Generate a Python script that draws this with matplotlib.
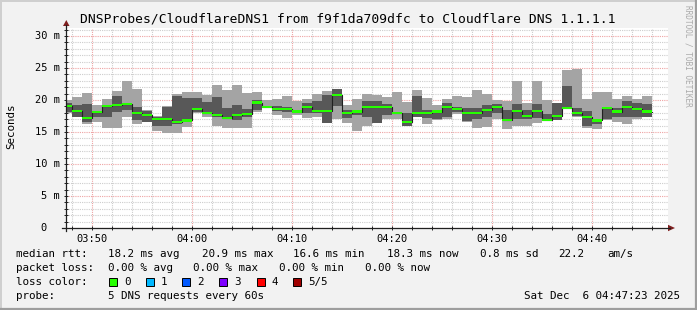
import matplotlib
matplotlib.use("Agg")
import matplotlib.pyplot as plt
from matplotlib.lines import Line2D
from matplotlib.patches import Rectangle, Polygon
import numpy as np

# time axis in minutes after 03:00; one bin per minute, the first one cut by the window start
win_start, win_end = 47.37, 107.57
bin_ends = list(range(48, 107))

# 5 pings per minute, sorted (ms)
ping_min = [18.0, 17.3, 16.3, 16.6, 15.7, 15.7, 17.4, 16.2, 16.5, 15.2,
            14.9, 14.9, 15.8, 18.0, 17.4, 15.9, 15.7, 15.7, 15.7, 18.2,
            18.7, 17.7, 17.2, 17.7, 17.2, 17.4, 16.4, 17.0, 16.4, 15.2,
            15.9, 16.4, 17.1, 17.0, 15.9, 17.4, 16.2, 16.9, 17.0, 17.8,
            16.6, 15.7, 15.8, 17.1, 15.5, 15.9, 15.9, 16.4, 16.8, 16.8,
            18.7, 17.4, 15.7, 15.5, 16.9, 16.6, 16.2, 17.1, 17.4]
ping_lo = [18.2, 17.4, 16.6, 17.3, 17.3, 18.2, 18.4, 16.9, 16.6, 16.0,
           15.9, 16.2, 16.5, 18.1, 17.9, 17.4, 17.0, 16.9, 17.3, 18.4,
           18.8, 18.3, 18.2, 17.9, 17.9, 17.9, 16.4, 19.1, 17.2, 17.6,
           17.3, 16.4, 17.7, 17.9, 15.9, 17.4, 17.2, 17.0, 17.4, 18.2,
           16.7, 17.0, 17.4, 18.0, 16.9, 17.0, 17.0, 17.2, 16.8, 16.8,
           18.7, 17.5, 15.9, 16.2, 17.0, 17.4, 17.3, 17.3, 17.4]
ping_med = [19.0, 18.3, 17.2, 18.1, 19.0, 19.2, 19.4, 18.0, 17.7, 17.0,
            17.0, 16.6, 16.8, 18.6, 18.0, 17.7, 17.2, 17.7, 17.8, 19.6,
            18.95, 18.6, 18.6, 18.2, 18.95, 18.3, 18.3, 20.8, 18.0, 18.2,
            18.95, 18.95, 18.95, 18.0, 16.5, 18.0, 18.0, 18.2, 18.95, 18.65,
            18.0, 18.0, 18.5, 18.85, 16.9, 18.3, 17.5, 18.3, 16.9, 17.5,
            18.7, 18.0, 17.4, 16.8, 18.7, 18.2, 18.95, 18.65, 18.2]
ping_hi = [19.6, 19.2, 19.3, 18.3, 19.0, 20.6, 19.5, 18.9, 18.3, 17.4,
           18.9, 20.6, 20.3, 20.3, 19.7, 20.4, 18.7, 19.2, 18.6, 20.0,
           19.1, 19.1, 18.9, 18.5, 19.6, 19.8, 20.8, 21.7, 18.4, 18.4,
           19.9, 19.9, 19.4, 18.2, 18.0, 20.6, 18.5, 18.4, 19.6, 18.9,
           18.8, 18.8, 19.2, 19.3, 18.5, 19.4, 18.5, 19.4, 17.8, 19.6,
           22.2, 18.7, 18.3, 16.9, 18.7, 18.8, 19.9, 19.6, 19.3]
ping_max = [20.0, 20.5, 21.1, 19.2, 20.2, 21.4, 22.9, 21.7, 18.4, 17.5,
            19.0, 21.0, 21.2, 21.3, 20.8, 22.3, 21.5, 22.3, 21.1, 21.3,
            20.0, 20.2, 20.6, 19.8, 20.1, 20.9, 21.4, 21.7, 19.2, 20.1,
            20.9, 20.8, 20.5, 21.2, 19.7, 21.6, 20.3, 19.2, 20.2, 20.6,
            20.5, 21.6, 20.9, 20.0, 19.9, 22.9, 19.6, 22.9, 20.0, 19.6,
            24.7, 24.8, 20.1, 21.2, 21.3, 20.1, 20.6, 20.2, 20.6]

loss_labels = ["0", "1", "2", "3", "4", "5/5"]
loss_colors = ["#26ff00", "#00b8ff", "#0059ff", "#7e00ff", "#ff0000", "#a00000"]

W, H = 697, 310
MONO = "DejaVu Sans Mono"


def fx(x):
    return x / W


def fy(y):
    return 1 - y / H


fig = plt.figure(figsize=(W / 100, H / 100), dpi=100, facecolor="#f2f2f2")
ax = fig.add_axes([fx(66), fy(228), 602 / W, 200 / H])
ax.set_facecolor("white")
ax.set_xlim(win_start, win_end)
ax.set_ylim(0, 31.25)
for s in ax.spines.values():
    s.set_visible(False)

ax.set_xticks(range(48, 108, 2), minor=True)
ax.set_xticks(range(50, 101, 10))
ax.set_xticklabels(["03:50", "04:00", "04:10", "04:20", "04:30", "04:40"],
                   family=MONO, fontsize=7.5)
ax.set_yticks(range(0, 32), minor=True)
ax.set_yticks(range(0, 31, 5))
ax.set_yticklabels([])
ax.grid(which="minor", color="#cdcdcd", lw=0.8, ls=(0, (1, 1)))
ax.grid(which="major", color="#eea3a3", lw=0.8, ls=(0, (1, 1)))
ax.set_axisbelow(True)
ax.tick_params(which="both", direction="inout", length=3, width=0.7, color="#1f1f1f")
ax.tick_params(axis="x", which="major", pad=3)

for v in range(0, 31, 5):
    lab = "%d m" % v if v else "0"
    off = 60 if v else 47
    ax.text(fx(off - 66) * W / 602, v, lab, transform=ax.get_yaxis_transform(),
            ha="right", va="center", family=MONO, fontsize=7.5)

# smoke and median
edges = [win_start] + bin_ends
ext = lambda a: list(a) + [a[-1]]
ax.fill_between(edges, ext(ping_min), ext(ping_max), step="post",
                color="#a4a4a4", lw=0, antialiased=False, zorder=2)
ax.fill_between(edges, ext(ping_lo), ext(ping_hi), step="post",
                color="#585858", lw=0, antialiased=False, zorder=3)
ax.step(edges, ext(ping_med), where="post", color="#202020", lw=0.8, zorder=4)
med = np.array(ext(ping_med))
ax.fill_between(edges, med - 0.17, med + 0.17, step="post",
                color=loss_colors[0], lw=0, antialiased=False, zorder=5)

# axes lines and arrows
fig.add_artist(Line2D([fx(62), fx(670)], [fy(228), fy(228)], color="#1f1f1f", lw=0.9))
fig.add_artist(Line2D([fx(66), fx(66)], [fy(231), fy(25)], color="#1f1f1f", lw=0.9))
tri_up = [(63, 26), (69.5, 26), (66.3, 20)]
tri_rt = [(668, 224.8), (668, 231.2), (675, 228)]
for tri in (tri_up, tri_rt):
    fig.add_artist(Polygon([(fx(a), fy(b)) for a, b in tri], closed=True,
                           color="#801f1f", lw=0))

# frame shading
fig.add_artist(Line2D([0, 1], [fy(0.5), fy(0.5)], color="#cfcfcf", lw=1.4))
fig.add_artist(Line2D([fx(0.5), fx(0.5)], [0, 1], color="#cfcfcf", lw=1.4))
fig.add_artist(Line2D([0, 1], [fy(309), fy(309)], color="#9e9e9e", lw=1.6))
fig.add_artist(Line2D([fx(696), fx(696)], [0, 1], color="#9e9e9e", lw=1.6))

fig.text(fx(348), fy(19), "DNSProbes/CloudflareDNS1 from f9f1da709dfc to Cloudflare DNS 1.1.1.1",
         ha="center", va="center", family=MONO, fontsize=9.4)
fig.text(fx(11), fy(126), "Seconds", rotation=90, ha="center", va="center",
         family=MONO, fontsize=7.8)
fig.text(fx(688), fy(5), "RRDTOOL / TOBI OETIKER", rotation=-90, ha="center", va="top",
         family=MONO, fontsize=5.6, color="#aaaaaa")

# legend
fs = 7.8
rows = [254, 268, 282, 296]
fig.text(fx(16), fy(rows[0]), "median rtt:", va="center", family=MONO, fontsize=fs)
for x, s in [(107.6, "18.2 ms avg"), (202, "20.9 ms max"), (293, "16.6 ms min"),
             (387, "18.3 ms now"), (480, "0.8 ms sd"), (558, "22.2"), (607, "am/s")]:
    fig.text(fx(x), fy(rows[0]), s, va="center", family=MONO, fontsize=fs)
fig.text(fx(16), fy(rows[1]), "packet loss:", va="center", family=MONO, fontsize=fs)
for x, s in [(107.6, "0.00 % avg"), (193, "0.00 % max"), (279, "0.00 % min"),
             (365, "0.00 % now")]:
    fig.text(fx(x), fy(rows[1]), s, va="center", family=MONO, fontsize=fs)
fig.text(fx(16), fy(rows[2]), "loss color:", va="center", family=MONO, fontsize=fs)
box_x = [109, 146, 182, 219, 256.5, 293]
for bx, lab, col in zip(box_x, loss_labels, loss_colors):
    fig.add_artist(Rectangle((fx(bx), fy(rows[2] + 4)), 8 / W, 8 / H,
                             facecolor=col, edgecolor="black", lw=0.7))
    fig.text(fx(bx + 15), fy(rows[2]), lab, va="center", family=MONO, fontsize=fs)
fig.text(fx(16), fy(rows[3]), "probe:", va="center", family=MONO, fontsize=fs)
fig.text(fx(107.6), fy(rows[3]), "5 DNS requests every 60s", va="center",
         family=MONO, fontsize=fs)
fig.text(fx(680), fy(rows[3]), "Sat Dec  6 04:47:23 2025", ha="right", va="center",
         family=MONO, fontsize=fs)

fig.savefig("out.png", dpi=100, facecolor=fig.get_facecolor())
